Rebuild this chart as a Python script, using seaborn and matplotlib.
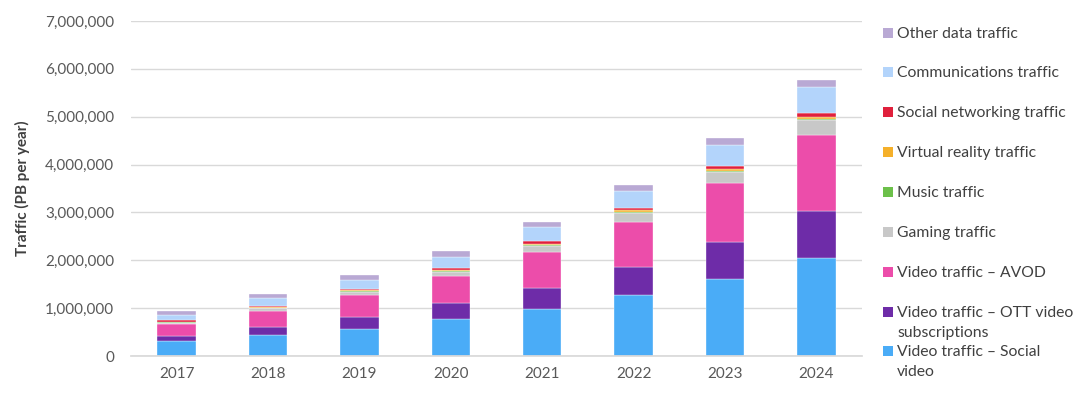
import matplotlib
matplotlib.use("Agg")
import matplotlib.pyplot as plt
import matplotlib.patches as mpatches
from matplotlib.ticker import FuncFormatter
import seaborn as sns
import pandas as pd

years = [2017, 2018, 2019, 2020, 2021, 2022, 2023, 2024]

# values in PB per year
social_video = [310000, 440000, 570000, 770000, 980000, 1270000, 1610000, 2040000]
ott_video = [110000, 170000, 250000, 330000, 450000, 600000, 780000, 990000]
avod_video = [250000, 340000, 450000, 580000, 740000, 940000, 1220000, 1580000]
gaming = [30000, 50000, 70000, 80000, 130000, 180000, 240000, 320000]
music = [10000, 12000, 15000, 18000, 20000, 22000, 25000, 28000]
virtual_reality = [10000, 12000, 15000, 20000, 25000, 30000, 35000, 40000]
social_networking = [30000, 30000, 35000, 45000, 55000, 60000, 70000, 85000]
communications = [110000, 150000, 190000, 220000, 290000, 340000, 430000, 530000]
other_data = [90000, 100000, 100000, 130000, 120000, 140000, 150000, 160000]

# bottom-to-top stacking order
series_names = [
    "Video traffic \u2013 Social video",
    "Video traffic \u2013 OTT video subscriptions",
    "Video traffic \u2013 AVOD",
    "Gaming traffic",
    "Music traffic",
    "Virtual reality traffic",
    "Social networking traffic",
    "Communications traffic",
    "Other data traffic",
]
series_values = [social_video, ott_video, avod_video, gaming, music,
                 virtual_reality, social_networking, communications, other_data]
legend_labels = [
    "Video traffic \u2013 Social\nvideo",
    "Video traffic \u2013 OTT video\nsubscriptions",
    "Video traffic \u2013 AVOD",
    "Gaming traffic",
    "Music traffic",
    "Virtual reality traffic",
    "Social networking traffic",
    "Communications traffic",
    "Other data traffic",
]
colors = ["#4AACF7", "#6E2CA8", "#EC4DAA", "#C8C8C8", "#6CC04A",
          "#F5B02A", "#E0203C", "#B3D4FB", "#B9A9D4"]

rows = []
for name, vals in zip(series_names, series_values):
    for y, v in zip(years, vals):
        rows.append({"year": y, "series": name, "value": v})
df = pd.DataFrame(rows)

sns.set_theme(style="white")
plt.rcParams["font.family"] = ["Lato", "DejaVu Sans"]

fig = plt.figure(figsize=(10.8, 4.04), dpi=100)
ax = fig.add_axes([131 / 1080, 48 / 404, (862 - 131) / 1080, (356 - 21) / 404])

palette = dict(zip(series_names, colors))
sns.histplot(data=df, x="year", hue="series", weights="value",
             hue_order=series_names[::-1], palette=palette,
             multiple="stack", discrete=True, shrink=0.42,
             alpha=1, edgecolor="white", linewidth=0.25, legend=False, ax=ax)

ax.set_xlim(2016.5, 2024.5)
ax.set_ylim(0, 7000000)
ax.set_yticks(range(0, 7000001, 1000000))
ax.set_xticks(years)
ax.yaxis.set_major_formatter(FuncFormatter(lambda v, p: f"{int(v):,}"))
ax.grid(axis="y", color="#D9D9D9", linewidth=1)
ax.set_axisbelow(True)
for s in ["top", "right", "left"]:
    ax.spines[s].set_visible(False)
ax.spines["bottom"].set_color("#D9D9D9")
ax.tick_params(axis="both", length=0, labelsize=11, labelcolor="#595959")
ax.tick_params(axis="y", pad=12)
ax.tick_params(axis="x", pad=8)
ax.set_xlabel("")
ax.set_ylabel("Traffic (PB per year)", fontsize=11, fontweight="bold",
              color="#404040", labelpad=11)

# manual legend (top to bottom)
legend_rows_y = [33, 72, 112, 152, 192, 232, 272, 312, 351]
for i, (lab, col) in enumerate(zip(legend_labels[::-1], colors[::-1])):
    yc = legend_rows_y[i]
    fig.patches.append(mpatches.Rectangle(
        (883 / 1080, 1 - (yc + 5) / 404), 10 / 1080, 10 / 404,
        transform=fig.transFigure, facecolor=col, edgecolor="none"))
    fig.text(897 / 1080, 1 - (yc - 6) / 404, lab, fontsize=11.3,
             color="#404040", va="top", ha="left", linespacing=1.55)

fig.savefig("out.png", dpi=100)
